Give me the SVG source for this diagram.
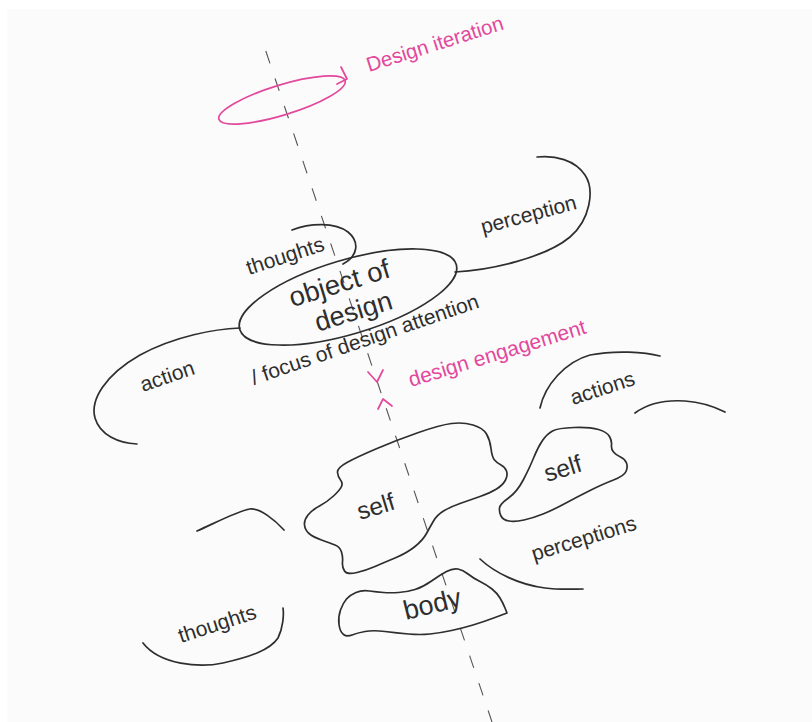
<svg xmlns="http://www.w3.org/2000/svg" width="812" height="722" viewBox="0 0 812 722">
<style>
.ln{fill:none;stroke:#2e2e2e;stroke-width:1.7;stroke-linecap:round;stroke-linejoin:round}
.pk{fill:none;stroke:#e2489b;stroke-width:1.7;stroke-linecap:round;stroke-linejoin:round}
.ax{fill:none;stroke:#555;stroke-width:1.1;stroke-dasharray:13 16}
text{font-family:"Liberation Sans",Arial,sans-serif;fill:#2e2e2e}
.pt{fill:#e2489b}
.s{font-size:21px}
.b{font-size:25px}
</style>
<rect x="0" y="0" width="812" height="722" fill="#ffffff"/>
<rect x="7" y="9" width="805" height="713" fill="#fbfbfb"/>
<g id="connectors">
<line class="ax" x1="265.8" y1="51" x2="492" y2="722"/>
<path id="thoughts-top-curve" class="ln" d="M292,230 C310,223 335,222 348,232 C360,242 358,256 343,264"/>
<path id="perception-curve" class="ln" d="M455,272 C490,270 545,258 570,237 C590,220 595,190 585,175 C575,160 555,155 537,157"/>
<path id="action-curve" class="ln" d="M240,328 C215,329 175,336 140,355 C105,375 90,400 95,418 C100,435 118,443 137,444"/>
<path id="actions-arc1" class="ln" d="M540,408 C545,385 565,362 590,355 C615,350 645,352 660,356"/>
<path id="actions-arc2" class="ln" d="M635,413 C650,402 670,400 685,401 C700,402 715,407 725,412"/>
<path id="bent-line" class="ln" d="M197,531 C215,523 240,510 250,509 C260,508 275,520 284,530"/>
<path id="thoughts-bottom-arc" class="ln" d="M143,643 C160,665 200,668 223,663 C250,657 270,650 278,638 C283,628 284,615 283,608"/>
<path id="perceptions-arc" class="ln" d="M480,559 C495,573 520,585 545,588 C560,590 575,589 583,589"/>
<path id="engage-down" class="pk" d="M368,372 L377,382 L383,370"/>
<path id="engage-up" class="pk" d="M378,409 L383,399 L392,406"/>
</g>
<g id="design-iteration">
<ellipse class="pk" cx="282" cy="100" rx="66" ry="15" transform="rotate(-17 282 100)"/>
<path class="pk" d="M341,67 L347,79 L337,84"/>
<text class="pt" x="369" y="72" font-size="20.5" transform="rotate(-17.5 369 72)">Design iteration</text>
</g>
<g id="object-of-design">
<ellipse class="ln" cx="348" cy="297" rx="113" ry="37" transform="rotate(-16.7 348 297)"/>
<text x="342" y="292" text-anchor="middle" font-size="27.5" transform="rotate(-17 342 292)">object of</text>
<text x="356" y="320" text-anchor="middle" font-size="27" transform="rotate(-17 356 320)">design</text>
</g>
<g id="labels">
<text class="s" x="249" y="275" transform="rotate(-18 249 275)">thoughts</text>
<text class="s" x="483" y="234" transform="rotate(-15 483 234)">perception</text>
<text class="s" x="254" y="385" transform="rotate(-19 254 385)">/ focus of design attention</text>
<text class="s" x="143" y="392" transform="rotate(-19 143 392)">action</text>
<text class="s pt" x="411" y="387" transform="rotate(-17 411 387)">design engagement</text>
<text class="s" x="573" y="405" transform="rotate(-18 573 405)">actions</text>
<text class="s" x="534" y="561" transform="rotate(-17 534 561)">perceptions</text>
<text class="s" x="181" y="643" transform="rotate(-18 181 643)">thoughts</text>
</g>
<g id="self-main">
<path class="ln" d="M337.5,472.5 Q337,468 347,462.5 Q357,457 377,448.5 Q397,440 418.5,432.5 Q440,425 451.5,423.5 Q463,422 473,425 Q483,428 486.5,434 Q490,440 491,448.5 Q492,457 494.5,460 Q497,463 501,465 Q505,467 506.5,471 Q508,475 505.5,480 Q503,485 496.5,489 Q490,493 480,496.5 Q470,500 460,503.5 Q450,507 443.5,511 Q437,515 433.5,521 Q430,527 426.5,533.5 Q423,540 415,546.5 Q407,553 395,558 Q383,563 375,566.5 Q367,570 357,572.5 Q347,575 344.5,571 Q342,567 342.5,562 Q343,557 341.5,552 Q340,547 335,545 Q330,543 321.5,540 Q313,537 309,533.5 Q305,530 304.5,525 Q304,520 308,515 Q312,510 319.5,506 Q327,502 333.5,496 Q340,490 341.5,486.5 Q343,483 340.5,480 Q338,477 337.5,472.5 Z"/>
<text x="360" y="520" font-size="24.5" transform="rotate(-17 360 520)">self</text>
</g>
<g id="self-right">
<path class="ln" d="M499.5,508 Q500,504 508.5,498 Q517,492 523.5,479.5 Q530,467 534,457 Q538,447 542.5,440.5 Q547,434 552.5,431 Q558,428 574,427.5 Q590,427 598.5,429.5 Q607,432 609.5,436.5 Q612,441 611.5,445 Q611,449 613.5,452 Q616,455 620.5,457 Q625,459 626.5,463 Q628,467 626,471.5 Q624,476 613.5,480 Q603,484 590,490.5 Q577,497 565,503.5 Q553,510 543,514 Q533,518 524,520 Q515,522 509,521 Q503,520 501,516 Q499,512 499.5,508 Z"/>
<text x="547" y="482" font-size="24.5" transform="rotate(-17 547 482)">self</text>
</g>
<g id="body">
<path class="ln" d="M343.5,634.5 Q340,632 339,624.5 Q338,617 340.5,610 Q343,603 346.5,599 Q350,595 356,592.5 Q362,590 369.5,591 Q377,592 383.5,592.5 Q390,593 398.5,592.5 Q407,592 415,589.5 Q423,587 431.5,581 Q440,575 446.5,571.5 Q453,568 458,569 Q463,570 468,574 Q473,578 480,581.5 Q487,585 492,589 Q497,593 500,598 Q503,603 505,608 L507,613 L495,617.5 Q483,622 473,625 Q463,628 451.5,630.5 Q440,633 430,634 Q420,635 408.5,634 Q397,633 385,631.5 Q373,630 365,631.5 Q357,633 352,635 Q347,637 343.5,634.5 Z"/>
<text x="406" y="620" font-size="27" transform="rotate(-14 406 620)">body</text>
</g>
</svg>
